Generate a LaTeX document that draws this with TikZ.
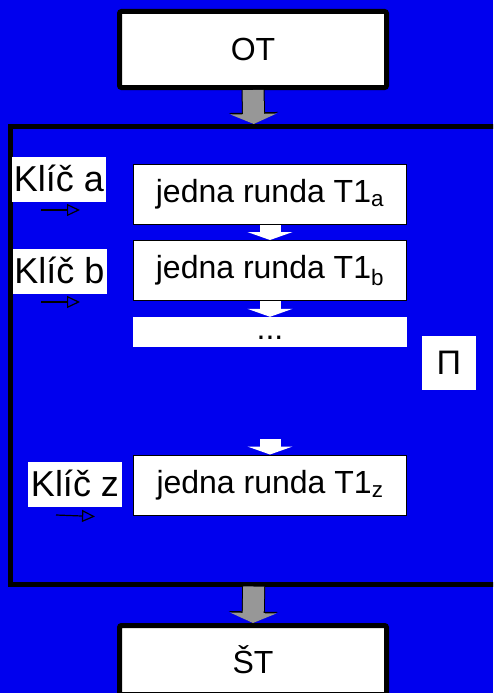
\documentclass[tikz,border=0pt]{standalone}
\usepackage{fontspec}
\setmainfont{Liberation Sans}
\usetikzlibrary{arrows.meta}
\definecolor{bgblue}{HTML}{0000EE}
\definecolor{arrowgray}{HTML}{979797}

\tikzset{
  bigbox/.style={draw=black, line width=5pt, fill=white, rounded corners=2pt,
    minimum width=267pt, minimum height=76pt, inner sep=0pt,
    font=\fontsize{32pt}{38pt}\selectfont},
  framebox/.style={draw=black, line width=5pt, inner sep=0pt,
    minimum width=486.5pt, minimum height=457.5pt},
  roundbox/.style={draw=black, line width=1pt, fill=white,
    minimum width=273pt, minimum height=60pt, inner sep=0pt,
    font=\fontsize{32pt}{38pt}\selectfont},
  keylabel/.style={fill=white, minimum width=94pt, minimum height=45pt,
    inner sep=0pt, text height=26pt, text depth=3pt,
    font=\fontsize{36pt}{42pt}\selectfont},
  grayarrow/.style={draw=arrowgray, line width=21pt,
    -{Triangle[width=46pt,length=10pt]},
    preaction={draw=black, line width=23pt,
      -{Triangle[width=49pt,length=11.5pt]}}},
  whitearrow/.style={draw=white, line width=21pt,
    -{Triangle[width=45pt,length=8pt]}},
  keyarrow/.style={draw=black, line width=1.2pt,
    -{Triangle[open,width=12pt,length=13pt]}}
}

\begin{document}
\begin{tikzpicture}[x=1pt,y=-1pt]
\useasboundingbox (0,0) rectangle (493,693);
\clip (0,0) rectangle (493,693);
\fill[bgblue] (0,0) rectangle (493,693);
% Top and bottom boxes, frame
\node[bigbox] (ot) at (253,49.5) {OT};
\node[framebox] (frame) at (253.75,355.25) {};
\node[bigbox, minimum height=69pt] (st) at (253,660) {ŠT};
\draw[grayarrow] (ot.south) -- (frame.north);
\draw[grayarrow] (frame.south) -- (st.north);
% Rounds
\foreach \name/\y/\s in {ra/194.5/a, rb/270.5/b, rz/485/z}{
    \node[roundbox] (\name) at (270,\y) {jedna runda T1\textsubscript{\s}};
}
\node[fill=white, minimum width=274pt, minimum height=30pt, inner sep=0pt,
    text height=15pt, font=\fontsize{32pt}{38pt}\selectfont]
    (dots) at (270,332) {...};
\coordinate (gap) at (270,439);
\draw[whitearrow] (ra.south) -- (rb.north);
\draw[whitearrow] (rb.south) -- (dots.north);
\draw[whitearrow] (gap) -- (rz.north);
% Pi label
\node[fill=white, minimum size=54pt, inner sep=0pt,
    font=\fontsize{34pt}{40pt}\selectfont] (pi) at (449,363) {Π};
% Keys
\foreach \name/\x/\y/\k in {ka/59/179.5/a, kb/59.5/271.5/b, kz/75/484.5/z}{
    \node[keylabel] (\name) at (\x,\y) {Klíč \k};
}
\coordinate (ka-s) at (41,210);  \coordinate (ka-e) at (80,210);
\coordinate (kb-s) at (41,302);  \coordinate (kb-e) at (80,302);
\coordinate (kz-s) at (56,515);  \coordinate (kz-e) at (95,516.5);
\foreach \k in {ka,kb,kz}{
    \draw[keyarrow] (\k-s) -- (\k-e);
}
\end{tikzpicture}
\end{document}
